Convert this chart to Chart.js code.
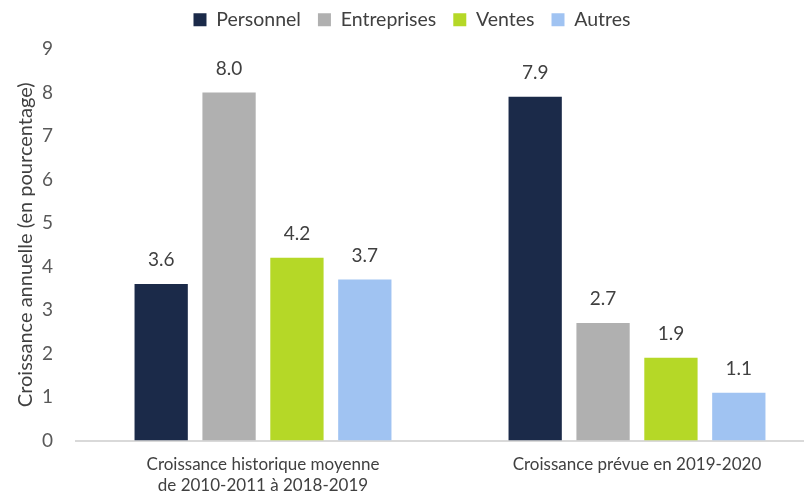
<!DOCTYPE html>
<html><head><meta charset="utf-8">
<script src="https://cdn.jsdelivr.net/npm/chart.js@4/dist/chart.umd.min.js"></script>
<style>html,body{margin:0;padding:0;overflow:hidden;background:#fff}#wrap{width:824px;height:498px}</style>
</head><body><div id="wrap"><canvas id="c" width="824" height="498"></canvas></div>
<script>
const categories = [["Croissance historique moyenne","de 2010-2011 à 2018-2019"],"Croissance prévue en 2019-2020"];
const seriesNames = ["Personnel","Entreprises","Ventes","Autres"];
const personnel = [3.6, 7.9];
const entreprises = [8.0, 2.7];
const ventes = [4.2, 1.9];
const autres = [3.7, 1.1];
const yTicks = [0,1,2,3,4,5,6,7,8,9];
const colors = ["#1B2A49","#B0B0B0","#B5D827","#A0C3F2"];
const values = [personnel, entreprises, ventes, autres];
const FONT = 'Lato, "Open Sans", sans-serif';

const labelPlugin = {
  id:'vlabels',
  afterDatasetsDraw(chart){
    const ctx = chart.ctx;
    ctx.save();
    ctx.font = '19px ' + FONT;
    ctx.fillStyle = '#404040';
    ctx.textAlign = 'center';
    ctx.textBaseline = 'middle';
    chart.data.datasets.forEach((ds,i)=>{
      chart.getDatasetMeta(i).data.forEach((el,j)=>{
        ctx.fillText(ds.data[j].toFixed(1), el.x, el.y - 24);
      });
    });
    ctx.restore();
  }
};
const legendFit = {
  id:'legendFit',
  afterInit(chart){
    const lg = chart.legend;
    const of = lg.fit;
    lg.fit = function(){ of.call(this); this.height = 56; };
  }
};

new Chart(document.getElementById('c'), {
  type:'bar',
  data:{
    labels: categories,
    datasets: seriesNames.map((n,i)=>({label:n,data:values[i],backgroundColor:colors[i],borderWidth:0,categoryPercentage:0.726,barPercentage:0.785}))
  },
  options:{
    responsive:false, animation:false,
    layout:{padding:{left:0,right:0,top:-7,bottom:-12}},
    plugins:{
      legend:{position:'top',labels:{boxWidth:13,boxHeight:13,padding:17,font:{size:19.5,family:FONT},color:'#404040',
        generateLabels(chart){return chart.data.datasets.map((d,i)=>({text:d.label,fillStyle:d.backgroundColor,strokeStyle:d.backgroundColor,lineWidth:0,datasetIndex:i,fontColor:'#404040'}));}},
        onClick:null},
      tooltip:{enabled:false}
    },
    scales:{
      x:{grid:{display:false,drawTicks:false},border:{display:true,color:'#D9D9D9',width:2},
        ticks:{color:'#404040',font:{size:17,family:FONT,lineHeight:1.22},padding:14,maxRotation:0}},
      y:{min:0,max:9,afterBuildTicks(s){s.ticks=yTicks.map(v=>({value:v}));},
        grid:{display:false,drawTicks:false},border:{display:false},
        ticks:{color:'#595959',font:{size:19,family:FONT},padding:23},
        title:{display:true,text:'Croissance annuelle (en pourcentage)',color:'#404040',font:{size:20,family:FONT},padding:{top:14,bottom:0}},
        afterFit(s){s.width=76;}}
    }
  },
  plugins:[labelPlugin,legendFit]
});
</script></body></html>
